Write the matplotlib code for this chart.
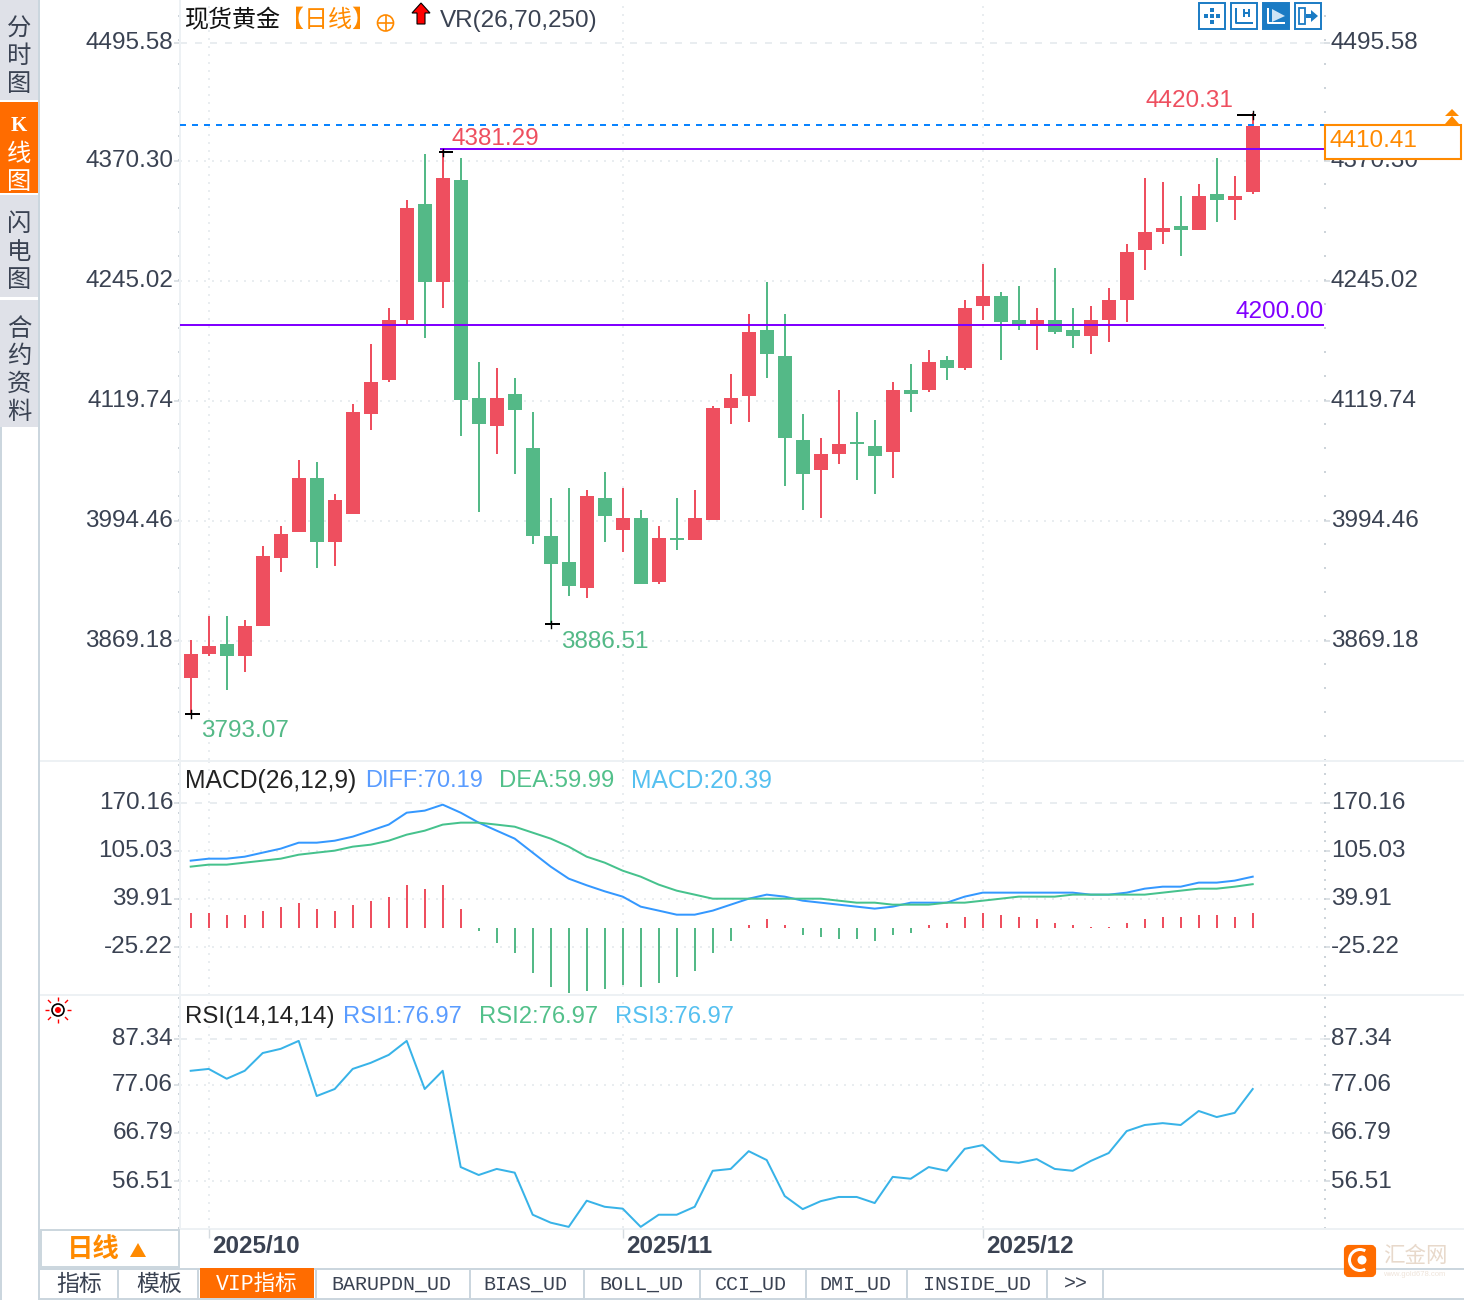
import numpy as np
import matplotlib
matplotlib.use("Agg")
import matplotlib.pyplot as plt
from matplotlib.patches import Rectangle, Circle, Polygon, FancyBboxPatch, Wedge
from matplotlib.transforms import ScaledTranslation

plt.rcParams['font.family'] = ['Liberation Sans', 'Noto Sans CJK SC', 'DejaVu Sans']

W, H = 1464, 1300

# daily candles
opens = [3830.6, 3855.6, 3866.0, 3853.5, 3884.8, 3955.8, 3983.0, 4039.4, 3972.5, 4001.8,
         4106.2, 4141.7, 4204.3, 4325.4, 4244.0, 4350.5, 4122.9, 4093.6, 4127.0, 4070.7,
         3978.8, 3951.7, 3924.5, 4018.5, 3985.1, 3997.6, 3930.8, 3976.7, 3974.6, 3995.5,
         4112.4, 4125.0, 4193.9, 4166.7, 4079.0, 4047.7, 4064.4, 4076.9, 4072.8, 4066.5,
         4131.2, 4131.2, 4162.5, 4154.2, 4218.9, 4229.4, 4204.3, 4200.1, 4204.3, 4193.9,
         4187.6, 4204.3, 4225.2, 4277.4, 4296.2, 4302.4, 4298.3, 4335.8, 4329.6, 4337.9]
highs = [3870.2, 3895.3, 3895.3, 3891.1, 3968.4, 3989.2, 4058.1, 4056.1, 4022.6, 4116.6,
         4179.2, 4216.8, 4329.6, 4377.6, 4381.29, 4373.4, 4160.5, 4154.2, 4143.8, 4108.3,
         4018.5, 4028.9, 4026.8, 4045.6, 4028.9, 4005.9, 3989.2, 4018.5, 4026.8, 4114.5,
         4147.9, 4210.6, 4244.0, 4210.6, 4106.2, 4081.1, 4131.2, 4108.3, 4099.9, 4139.6,
         4158.4, 4173.0, 4166.7, 4225.2, 4262.8, 4233.5, 4239.8, 4216.8, 4258.6, 4216.8,
         4218.9, 4237.7, 4283.6, 4352.5, 4348.4, 4333.8, 4346.3, 4373.4, 4354.6, 4420.31]
lows = [3793.07, 3853.5, 3818.0, 3836.8, 3884.8, 3941.2, 3983.0, 3945.4, 3947.5, 4001.8,
        4089.5, 4139.6, 4200.1, 4185.5, 4216.8, 4083.2, 4003.9, 4064.4, 4043.5, 3970.4,
        3886.51, 3916.2, 3914.1, 3972.5, 3962.1, 3928.7, 3928.7, 3964.2, 3974.6, 3995.5,
        4095.7, 4097.8, 4143.8, 4031.0, 4005.9, 3997.6, 4054.0, 4037.3, 4022.6, 4039.4,
        4108.3, 4129.1, 4141.7, 4152.1, 4204.3, 4162.5, 4193.9, 4173.0, 4189.7, 4175.1,
        4168.8, 4181.3, 4202.2, 4256.5, 4283.6, 4271.1, 4298.3, 4306.6, 4308.7, 4335.8]
closes = [3855.6, 3864.0, 3853.5, 3884.8, 3957.9, 3980.9, 4039.4, 3972.5, 4016.4, 4108.3,
          4139.6, 4204.3, 4321.2, 4244.0, 4352.5, 4120.8, 4095.7, 4122.9, 4110.3, 3978.8,
          3949.6, 3926.6, 4020.6, 3999.7, 3997.6, 3928.7, 3976.7, 3974.6, 3997.6, 4112.4,
          4122.9, 4191.8, 4168.8, 4081.1, 4043.5, 4064.4, 4074.8, 4074.8, 4062.3, 4131.2,
          4127.0, 4160.5, 4154.2, 4216.8, 4229.4, 4202.2, 4200.1, 4204.3, 4191.8, 4187.6,
          4204.3, 4225.2, 4275.3, 4296.2, 4300.4, 4298.3, 4333.8, 4329.6, 4333.8, 4406.8]
is_up = [c > o for o, c in zip(opens, closes)]

diff = [91.9, 94.6, 94.6, 97.3, 102.8, 108.2, 116.3, 116.3, 119.0, 124.5,
        132.6, 140.8, 157.0, 159.8, 167.9, 157.0, 143.5, 132.6, 121.8, 102.8,
        83.8, 67.5, 58.5, 50.3, 43.1, 29.5, 24.1, 18.6, 18.6, 24.1,
        32.2, 40.3, 45.8, 43.1, 37.6, 34.9, 32.2, 29.5, 26.8, 29.5,
        34.9, 34.9, 34.9, 43.1, 48.5, 48.5, 48.5, 48.5, 48.5, 48.5,
        45.8, 45.8, 48.5, 53.9, 56.6, 56.6, 62.1, 62.1, 64.8, 70.19]
dea = [83.8, 86.5, 86.5, 89.2, 91.9, 94.6, 100.0, 102.8, 105.5, 110.9,
       113.6, 119.0, 127.2, 132.6, 140.8, 143.5, 143.5, 140.8, 138.0, 129.9,
       121.8, 110.9, 97.3, 89.2, 78.3, 70.2, 59.4, 51.2, 45.8, 40.3,
       40.3, 40.3, 40.3, 40.3, 40.3, 40.3, 37.6, 34.9, 34.9, 32.2,
       32.2, 32.2, 34.9, 34.9, 37.6, 40.3, 43.1, 43.1, 43.1, 45.8,
       45.8, 45.8, 45.8, 45.8, 48.5, 51.2, 53.9, 53.9, 56.6, 59.99]
macd = [20.4, 20.4, 17.6, 17.6, 23.1, 28.5, 33.9, 25.8, 23.1, 31.2,
        36.6, 42.1, 58.3, 52.9, 58.3, 25.8, -4.1, -20.4, -34.0, -61.1,
        -80.1, -88.2, -85.5, -82.8, -77.3, -80.1, -74.6, -66.5, -58.3, -34.0,
        -17.6, 4.1, 12.2, 4.1, -9.5, -12.2, -14.9, -14.9, -17.6, -9.5,
        -6.8, 4.1, 6.8, 14.9, 20.4, 17.6, 14.9, 12.2, 6.8, 4.1,
        1.4, 1.4, 6.8, 12.2, 14.9, 14.9, 17.6, 17.6, 14.9, 20.39]
rsi = [80.1, 80.5, 78.4, 80.1, 83.9, 84.8, 86.5, 74.7, 76.2, 80.5,
       81.8, 83.5, 86.5, 76.2, 80.1, 59.5, 57.8, 59.1, 58.3, 49.3,
       47.6, 46.7, 52.3, 51.0, 50.6, 46.7, 49.3, 49.3, 51.0, 58.7,
       59.1, 62.9, 61.0, 53.3, 50.5, 52.2, 53.1, 53.1, 51.8, 57.4,
       57.0, 59.5, 58.7, 63.4, 64.2, 60.8, 60.4, 61.2, 59.1, 58.7,
       60.8, 62.5, 67.2, 68.5, 68.9, 68.5, 71.5, 70.2, 71.1, 76.2]

main_ticks = [4493.5, 4370.30, 4245.02, 4119.74, 3994.46, 3869.18]
main_labels = ['4495.58', '4370.30', '4245.02', '4119.74', '3994.46', '3869.18']
macd_ticks = [170.16, 105.03, 39.91, -25.22]
macd_labels = ['170.16', '105.03', '39.91', '-25.22']
rsi_ticks = [86.91, 77.06, 66.79, 56.51]
rsi_labels = ['87.34', '77.06', '66.79', '56.51']
month_pos = [1, 24, 44]
month_labels = ['2025/10', '2025/11', '2025/12']

last_line = 4407.9
upper_line = 4382.8
lower_line = 4199.1

RED = '#ee4f5f'
GREEN = '#54b987'
PURPLE = '#8000ff'
ORANGE = '#ff8a00'
TAB_ORANGE = '#ff6c00'
GRID = '#e9edf0'
DARK = '#3a4252'
BORDER = '#cbd6de'
LW2 = 1.44  # 2 px line

x = np.arange(len(closes))
colors = [RED if u else GREEN for u in is_up]
xmax = (1324 - 190.7) / 18

fig = plt.figure(figsize=(W / 100, H / 100), dpi=100, facecolor='white')


def panel(top, bottom):
    return fig.add_axes([180 / W, 1 - bottom / H, (1324 - 180) / W, (bottom - top) / H])


def style_panel(ax, ticks, labels, step, ylim):
    ax.set_xlim((180 - 190.7) / 18, xmax)
    ax.set_ylim(*ylim)
    ax.set_facecolor('none')
    for name in ['top', 'right', 'bottom']:
        ax.spines[name].set_visible(False)
    ax.spines['left'].set_color('#edf1f4')
    ax.spines['left'].set_linewidth(LW2)
    ax.set_yticks(ticks, labels)
    ax.set_yticks(np.arange(ylim[0], ylim[1], step), minor=True)
    ax.tick_params(axis='y', which='major', left=True, right=True, labelleft=True, labelright=True,
                   length=4, width=1.2, color='#d5dbe0', labelsize=17.5, labelcolor=DARK, pad=1)
    ax.tick_params(axis='y', which='minor', left=True, right=True, length=1.5, width=1.4, color='#ccd3d9')
    ax.set_xticks([])
    shift = ScaledTranslation(0, 2 / 100, fig.dpi_scale_trans)
    for lab in ax.get_yticklabels():
        lab.set_transform(lab.get_transform() + shift)
    for i, t in enumerate(ticks):
        ls = (0, (3.5, 4)) if i == 0 else (0, (1, 3))
        ax.axhline(t, color=GRID, lw=LW2, ls=ls, zorder=0)
    for m in month_pos:
        ax.axvline(m, color=GRID, lw=LW2, ls=(0, (1, 3)), zorder=0)


# K line panel
ax = panel(0, 760)
style_panel(ax, main_ticks, main_labels, 125.28 / 5, (3744.94, 4538.38))
ax.vlines(x, lows, highs, colors=colors, lw=LW2, zorder=2)
bottoms = np.minimum(opens, closes)
heights = np.abs(np.array(closes) - np.array(opens))
ax.bar(x, heights, width=14 / 18, bottom=bottoms, color=colors, linewidth=0, zorder=3)

ax.axhline(last_line, color='#0a84ff', lw=LW2, ls=(0, (3, 3)), zorder=4)
ax.plot([14 - 0.1, xmax], [upper_line, upper_line], color=PURPLE, lw=LW2, zorder=4)
ax.axhline(lower_line, color=PURPLE, lw=LW2, zorder=4)
ax.text(62.93, lower_line + 2, '4200.00', color=PURPLE, fontsize=17.5, ha='right', va='bottom', zorder=5)

# high and low marks
marks = [(59, highs[59] - 2, -0.9, 0.2, '4420.31', RED, 57.94, 4433, 'right'),
         (14, highs[14] - 2, -0.2, 0.55, '4381.29', RED, 14.5, 4393, 'left'),
         (0, lows[0], -0.3, 0.5, '3793.07', GREEN, 0.6, 3775, 'left'),
         (20, lows[20], -0.3, 0.5, '3886.51', GREEN, 20.6, 3868.4, 'left')]
for xm, ym, left, right, txt, col, tx, ty, ha in marks:
    ax.plot([xm + left, xm + right], [ym, ym], color='black', lw=LW2, zorder=5, solid_capstyle='butt')
    ax.plot([xm, xm], [ym - 4, ym + 4], color='black', lw=1.0, zorder=5)
    ax.text(tx, ty, txt, color=col, fontsize=17.5, ha=ha, va='center', zorder=5)

# MACD panel
ax2 = panel(762, 995)
style_panel(ax2, macd_ticks, macd_labels, 65.13 / 5, (-90.4, 225.8))
ax2.vlines(x, 0, macd, colors=[RED if v > 0 else GREEN for v in macd], lw=LW2, zorder=2)
ax2.plot(x, diff, color='#3498ff', lw=LW2, zorder=3)
ax2.plot(x, dea, color='#46c28d', lw=LW2, zorder=3)

# RSI panel
ax3 = panel(997, 1228)
style_panel(ax3, rsi_ticks, rsi_labels, 10.27 / 5, (46.46, 95.89))
ax3.plot(x, rsi, color='#38b3e8', lw=LW2, zorder=3)
ax3.set_xticks(month_pos, month_labels)
ax3.tick_params(axis='x', length=0, labelsize=17.5, labelcolor=DARK, pad=5)
for lab in ax3.get_xticklabels():
    lab.set_ha('left')
    lab.set_fontweight('bold')
    lab.set_transform(lab.get_transform() + ScaledTranslation(3 / 100, 0, fig.dpi_scale_trans))

# everything around the chart, in pixel coordinates
ui = fig.add_axes([0, 0, 1, 1], zorder=10)
ui.set_xlim(0, W)
ui.set_ylim(H, 0)
ui.axis('off')


def rect(x0, y0, x1, y1, fc='none', ec='none', lw=0, z=1):
    ui.add_patch(Rectangle((x0, y0), x1 - x0, y1 - y0, facecolor=fc, edgecolor=ec, linewidth=lw, zorder=z))


def line(xs, ys, color, lw=LW2, z=3):
    ui.plot(xs, ys, color=color, lw=lw, zorder=z, solid_capstyle='butt')


def label(px, py, s, color=DARK, size=17.5, ha='left', **kw):
    # fonts here sit about 2 px higher than the browser's
    ui.text(px, py + 2, s, color=color, fontsize=size, ha=ha, va='center', zorder=6, **kw)


# sidebar
rect(0, 0, 38, 100, fc='#dfe1e8')
rect(0, 102, 38, 193, fc=TAB_ORANGE)
rect(0, 195, 38, 297, fc='#dfe1e8')
rect(0, 300, 38, 427, fc='#dfe1e8')
line([39, 39], [0, 1300], BORDER)
line([1, 1], [427, 1300], BORDER)
for ch, py in [('分', 27), ('时', 54), ('图', 82), ('闪', 222), ('电', 250), ('图', 278),
               ('合', 327), ('约', 354), ('资', 382), ('料', 410)]:
    label(19, py + 1, ch, ha='center', size=17.5)
label(19, 124, 'K', color='white', ha='center', size=15, family=['Liberation Serif'], fontweight='bold')
for ch, py in [('线', 152), ('图', 180)]:
    label(19, py + 1, ch, color='white', ha='center', size=17.5)

# panel dividers
line([40, W], [761, 761], '#edf1f4')
line([40, W], [995, 995], '#edf1f4')
line([180, W], [1229, 1229], '#edf1f4')
line([40, W], [1269, 1269], BORDER)
line([40, W], [1299, 1299], BORDER)
for px in [208.7, 622.7, 982.7]:
    line([px, px], [1229, 1238], '#d5dbe0', lw=1.0)

# header rows
label(185, 19, '现货黄金', color='#111111', size=17.3)
label(280, 19, '【日线】', color=ORANGE, size=17.3)
ui.add_patch(Circle((385.5, 23), 8, fill=False, ec=ORANGE, lw=1.2, zorder=6))
line([377, 394], [23, 23], ORANGE, lw=1.2, z=6)
line([385.5, 385.5], [15, 31], ORANGE, lw=1.2, z=6)
ui.add_patch(Polygon([(412, 13), (421, 3), (430, 13), (425, 13), (425, 24), (417, 24), (417, 13)],
                     fc='red', ec='black', lw=0.8, zorder=6))
label(440, 19, 'VR(26,70,250)', size=17.5)
label(185, 779, 'MACD(26,12,9)', color='#222222', size=17.8)
label(365, 779, 'DIFF:70.19', color='#5a9cff', size=17)
label(499, 779, 'DEA:59.99', color='#52c08a', size=17.2)
label(631, 779, 'MACD:20.39', color='#55c0f0', size=17.7)
label(185, 1015, 'RSI(14,14,14)', color='#222222', size=17.3)
label(343, 1015, 'RSI1:76.97', color='#5a9cff', size=17.1)
label(479, 1015, 'RSI2:76.97', color='#52c08a', size=17.1)
label(615, 1015, 'RSI3:76.97', color='#55c0f0', size=17.1)

# toolbar buttons
BLUE = '#1a7bc4'
for i, x0 in enumerate([1198, 1230, 1262, 1294]):
    rect(x0 + 1, 3, x0 + 27, 29, fc=BLUE if i == 2 else 'white', ec=BLUE, lw=1.4, z=5)
cx, cy = 1212, 16
for dx, dy in [(-6, 0), (6, 0), (0, -6), (0, 6), (0, 0)]:
    rect(cx + dx - 2, cy + dy - 2, cx + dx + 2, cy + dy + 2, fc=BLUE, z=6)
line([1236, 1236, 1253], [8, 23, 23], BLUE, z=6)
line([1244, 1244], [9, 17], BLUE, z=6)
line([1249, 1249], [9, 17], BLUE, z=6)
line([1244, 1249], [13, 13], BLUE, z=6)
line([1268, 1268, 1285], [8, 23, 23], 'white', z=6)
ui.add_patch(Polygon([(1272, 9), (1285, 16), (1272, 22)], fc='#cfe4f5', ec='none', zorder=6))
rect(1299, 8, 1305, 24, ec=BLUE, lw=1.3, z=6)
ui.add_patch(Polygon([(1306, 14), (1311, 14), (1311, 10), (1318, 16), (1311, 22), (1311, 18), (1306, 18)],
                     fc=BLUE, ec='none', zorder=6))

# last price box
rect(1325, 125, 1461, 159, fc='white', ec=ORANGE, lw=1.5, z=5)
label(1330, 139, '4410.41', color=ORANGE)
ui.add_patch(Polygon([(1445, 116), (1452, 109), (1459, 116)], fc=ORANGE, ec='none', zorder=6))
ui.add_patch(Polygon([(1445, 124), (1452, 116), (1459, 124)], fc=ORANGE, ec='none', zorder=6))

# sun icon
ui.add_patch(Circle((58, 1010), 6, fc='white', ec='black', lw=1.2, zorder=6))
ui.add_patch(Circle((58, 1010), 3, fc='red', ec='none', zorder=7))
for dx, dy, ex, ey in [(-9, 0, -13, 0), (9, 0, 13, 0), (0, -9, 0, -13), (0, 9, 0, 13),
                       (-7, -7, -10, -10), (7, -7, 10, -10), (-7, 7, -10, 10), (7, 7, 10, 10)]:
    line([58 + dx, 58 + ex], [1010 + dy, 1010 + ey], 'red', lw=1.0, z=6)

# period box and bottom tabs
rect(41, 1230, 179, 1267, fc='white', ec=BORDER, lw=1.4, z=2)
label(93, 1248, '日线', color=ORANGE, ha='center', size=19, fontweight='bold')
ui.add_patch(Polygon([(130, 1257), (138, 1243), (146, 1257)], fc=ORANGE, ec='none', zorder=6))
rect(200, 1268, 314, 1298, fc=TAB_ORANGE, z=4)
for sep in [118, 198, 316, 470, 584, 700, 806, 907, 1047, 1103]:
    line([sep, sep], [1269, 1298], BORDER)
MONO = ['Liberation Mono', 'Noto Sans CJK SC']
label(79, 1282, '指标', ha='center', size=16.5)
label(159, 1282, '模板', ha='center', size=16.5)
label(257, 1282, 'VIP指标', color='white', ha='center', size=15.5, family=MONO)
tabs = [(391, 'BARUPDN_UD'), (525, 'BIAS_UD'), (641, 'BOLL_UD'), (751, 'CCI_UD'),
        (855, 'DMI_UD'), (977, 'INSIDE_UD'), (1076, '>>')]
for px, s in tabs:
    label(px, 1282, s, ha='center', size=14.4, family=MONO)

# watermark logo
ui.add_patch(FancyBboxPatch((1346, 1247), 28, 28, boxstyle='round,pad=0,rounding_size=3', fc=TAB_ORANGE, ec=TAB_ORANGE,
                            lw=3, zorder=5))
ui.add_patch(Wedge((1360, 1260), 12, 60, 300, width=3, fc='white', ec='none', zorder=6))
ui.add_patch(Circle((1362, 1260), 4.5, fc='white', ec='none', zorder=6))
label(1383, 1255, '汇金网', color='#e8d9cb', size=15.5)
label(1383, 1272, 'www.gold678.com', color='#efe4da', size=5.5)

fig.savefig('out.png', dpi=100, facecolor='white')
